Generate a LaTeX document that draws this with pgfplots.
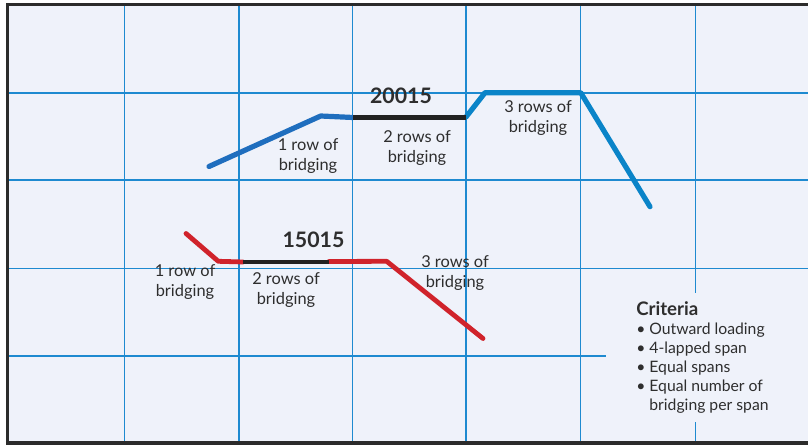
\documentclass[border=0pt]{standalone}
\usepackage{pgfplots}
\pgfplotsset{compat=1.18}
\usepackage{fontspec}
\setmainfont{Lato}
\definecolor{bg}{HTML}{EFF2FA}
\definecolor{gridblue}{HTML}{1E8AD0}
\definecolor{blueA}{HTML}{1F6EBE}
\definecolor{blueB}{HTML}{0A84C8}
\definecolor{redA}{HTML}{D0232B}
\definecolor{blk}{HTML}{222222}
\definecolor{txt}{HTML}{2E2E2E}
\definecolor{frame}{HTML}{2B2B2B}
\begin{document}
\begin{tikzpicture}
\begin{axis}[
  scale only axis,
  width=600.375pt, height=328.875pt,
  xmin=7.5, xmax=808, ymin=4.5, ymax=443,
  y dir=reverse,
  axis line style={draw=none},
  axis background/.style={fill=bg},
  xtick={124.7,239,352.7,466,580.3,695.3},
  ytick={93,180,268.5,356},
  xticklabels={}, yticklabels={},
  major tick length=0pt,
  grid=major,
  grid style={gridblue, line width=0.9pt},
  clip=false,
]
\coordinate (BBa) at (axis cs:0,0);
\coordinate (BBb) at (axis cs:808,445);
% cover for criteria block
\fill[bg] (axis cs:606,293) rectangle (axis cs:808,422);
% frame (left, top, bottom)
\draw[frame, line width=2.4pt] (axis cs:808,4.5) -- (axis cs:7.5,4.5) -- (axis cs:7.5,443) -- (axis cs:808,443);

% 20015 series
\addplot[blueA, line width=3.9pt, line cap=round, line join=round] coordinates {(209,166.5) (320.7,116) (353,117.5)};
\addplot[blueB, line width=3.9pt, line cap=round, line join=round] coordinates {(466,117) (485,92.7) (580.7,92.7) (650,206.7)};
\addplot[blk, line width=3.9pt] coordinates {(353,117.5) (466,117.5)};

% 15015 series
\addplot[redA, line width=3.6pt, line cap=round, line join=round] coordinates {(186,233.5) (218.3,261.3) (243,262)};
\addplot[redA, line width=3.6pt, line cap=round, line join=round] coordinates {(329,261.5) (386.7,261.3) (483,338.5)};
\addplot[blk, line width=3.6pt] coordinates {(243,262) (329,262)};

% labels
\node[text=txt, font=\fontsize{16}{18}\selectfont\bfseries] at (axis cs:401,96) {20015};
\node[text=txt, font=\fontsize{16}{18}\selectfont\bfseries] at (axis cs:313.5,240) {15015};
\begin{scope}[every node/.style={text=txt, align=center, font=\fontsize{12.3}{15.5}\selectfont, inner sep=0pt}]
\node at (axis cs:308,156) {1 row of\\bridging};
\node at (axis cs:417,148) {2 rows of\\bridging};
\node at (axis cs:538,118) {3 rows of\\bridging};
\node at (axis cs:185,282) {1 row of\\bridging};
\node at (axis cs:286,290) {2 rows of\\bridging};
\node at (axis cs:455,273) {3 rows of\\bridging};
\end{scope}
\node[text=txt, anchor=north west, align=left, inner sep=0pt, font=\fontsize{11.8}{14.3}\selectfont] at (axis cs:636,301.5)
 {{\fontsize{14}{14.3}\selectfont\bfseries Criteria}\\• Outward loading\\• 4-lapped span\\• Equal spans\\• Equal number of\\\hphantom{•\ }bridging per span};
\end{axis}
\pgfresetboundingbox
\path[use as bounding box] (BBa) rectangle (BBb);
\end{tikzpicture}
\end{document}
